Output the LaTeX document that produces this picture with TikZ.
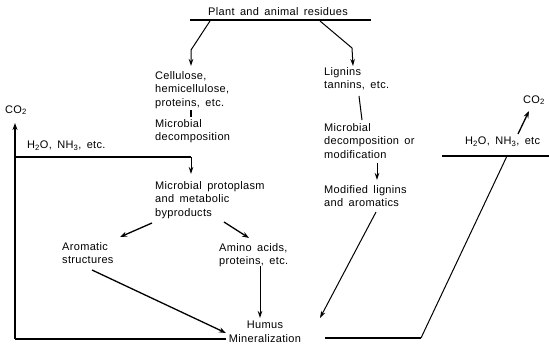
\documentclass[tikz,border=0pt]{standalone}
\usepackage{fontspec}
\setmainfont{Liberation Sans}[LetterSpace=3,WordSpace=1.6]
\usetikzlibrary{arrows.meta}
\begin{document}
\begin{tikzpicture}[x=1pt,y=-1pt,
  txt/.style={inner sep=0pt, align=left, font=\fontsize{11}{13.5}\selectfont, anchor=north west},
  heavy/.style={line width=1.8pt},
  mid/.style={line width=1.3pt},
  ln/.style={line width=1pt},
  arr/.style={line width=1pt, -{Stealth[length=7pt,width=4.5pt]}},
  harr/.style={line width=1.3pt, -{Stealth[length=7pt,width=5pt]}}]
\useasboundingbox (0,0) rectangle (549,348);
% texts
\node[txt, anchor=center] (title) at (278,12) {Plant and animal residues};
\node[txt] (cell) at (155,71) {Cellulose,\\hemicellulose,\\proteins, etc.};
\node[txt] (micro1) at (155,119) {Microbial\\decomposition};
\node[txt] (proto) at (155,181) {Microbial protoplasm\\and metabolic\\byproducts};
\node[txt] (arom) at (62,242) {Aromatic\\structures};
\node[txt] (amino) at (219,243) {Amino acids,\\proteins, etc.};
\node[txt, align=center, anchor=north] (humus) at (265,321) {Humus\\Mineralization};
\node[txt] (lign) at (324,67) {Lignins\\tannins, etc.};
\node[txt] (micro2) at (324,123) {Microbial\\decomposition or\\modification};
\node[txt] (modif) at (324,185) {Modified lignins\\and aromatics};
\node[txt, anchor=center] (co2l) at (16,110) {CO\textsubscript{2}};
\node[txt, anchor=center] (co2r) at (534,100) {CO\textsubscript{2}};
\node[txt, anchor=west] (h2ol) at (27,146) {H\textsubscript{2}O, NH\textsubscript{3}, etc.};
\node[txt, anchor=west] (h2or) at (465,142) {H\textsubscript{2}O, NH\textsubscript{3}, etc};
% coordinates
\coordinate (tl) at (190,20);
\coordinate (tr) at (371,20);
\coordinate (lb0) at (210,21);
\coordinate (lb1) at (191,50);
\coordinate (lb2) at (191,66);
\coordinate (rb0) at (320,21);
\coordinate (rb1) at (352,48);
\coordinate (rb2) at (353,66);
\coordinate (t0) at (191,110);
\coordinate (t1) at (191,117);
\coordinate (hl0) at (15,157);
\coordinate (hl1) at (191,157);
\coordinate (hl2) at (191,174);
\coordinate (bl0) at (226,339);
\coordinate (bl1) at (15,339);
\coordinate (bl2) at (15,123);
\coordinate (p0) at (152,223);
\coordinate (p1) at (120,237);
\coordinate (p2) at (224,222);
\coordinate (p3) at (249,238);
\coordinate (a0) at (260,266);
\coordinate (a1) at (260,318);
\coordinate (s0) at (92,270);
\coordinate (s1) at (226,333);
\coordinate (g0) at (359,96);
\coordinate (g1) at (362,120);
\coordinate (m0) at (377,163);
\coordinate (m1) at (377,180);
\coordinate (d0) at (376,212);
\coordinate (d1) at (320,318);
\coordinate (br0) at (325,338);
\coordinate (br1) at (421,338);
\coordinate (br2) at (507,156);
\coordinate (rh0) at (442,156);
\coordinate (rh1) at (549,156);
\coordinate (c0) at (518,134);
\coordinate (c1) at (529,111);
% connectors
\draw[heavy] (tl) -- (tr);
\draw[arr] (lb0) -- (lb1) -- (lb2);
\draw[arr] (rb0) -- (rb1) -- (rb2);
\draw[mid] (t0) -- (t1);
\draw[heavy] (hl0) -- (hl1);
\draw[arr] (hl1) -- (hl2);
\draw[heavy] (bl0) -- (bl1);
\draw[harr] (bl1) -- (bl2);
\draw[harr] (p0) -- (p1);
\draw[harr] (p2) -- (p3);
\draw[arr] (a0) -- (a1);
\draw[harr] (s0) -- (s1);
\draw[ln] (g0) -- (g1);
\draw[arr] (m0) -- (m1);
\draw[arr] (d0) -- (d1);
\draw[heavy] (br0) -- (br1);
\draw[ln] (br1) -- (br2);
\draw[heavy] (rh0) -- (rh1);
\draw[harr] (c0) -- (c1);
\end{tikzpicture}
\end{document}
